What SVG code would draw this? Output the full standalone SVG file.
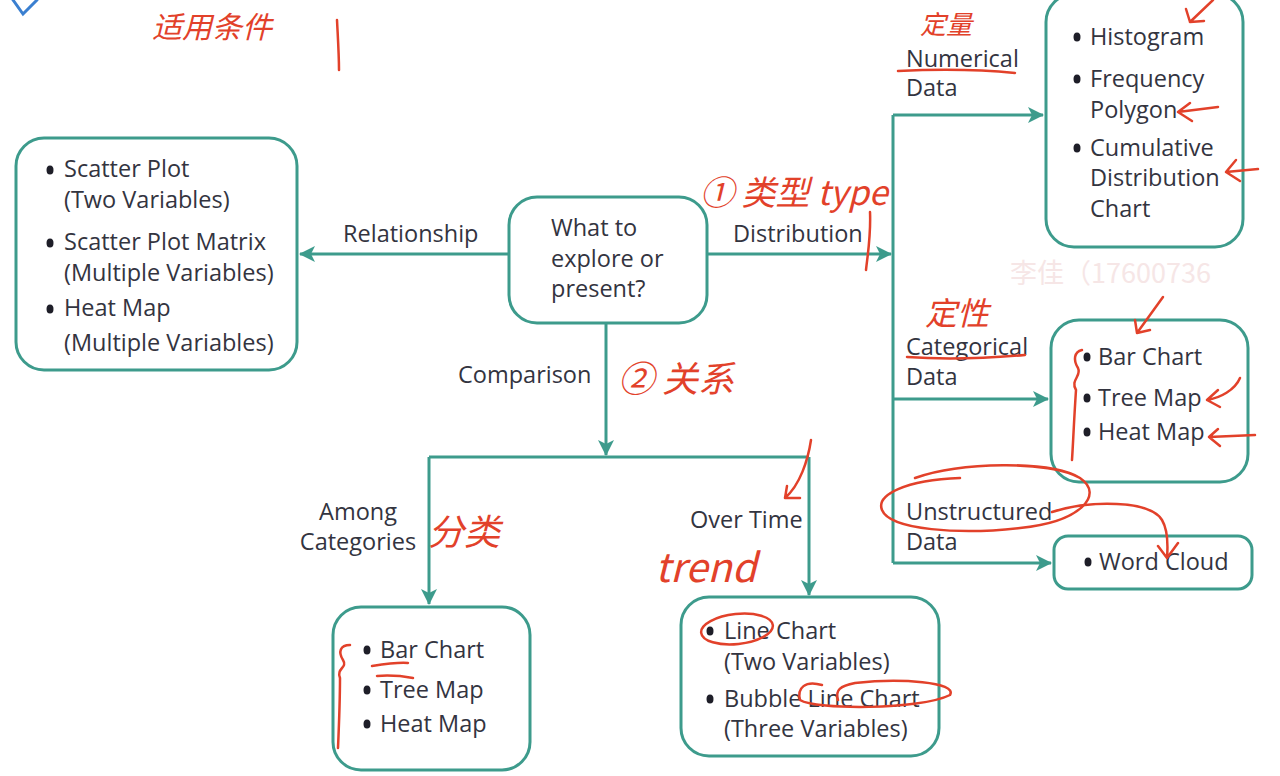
<svg xmlns="http://www.w3.org/2000/svg" width="1280" height="776" viewBox="0 0 1280 776">
<style>
.box{fill:#fff;stroke:#3d9b8c;stroke-width:3}
.t{font-family:"Open Sans","Liberation Sans",sans-serif;font-size:23.5px;fill:#33343f}
.lbl{font-family:"Open Sans","Liberation Sans",sans-serif;font-size:23.5px;fill:#33343f}
.con{fill:none;stroke:#3d9b8c;stroke-width:3}
.b{fill:#1e1e28}
.red{fill:none;stroke:#e2412a;stroke-width:2.5;stroke-linecap:round;stroke-linejoin:round}
.hw{font-family:"Noto Sans CJK SC","Liberation Sans",sans-serif;fill:#e2412a;font-style:italic}
</style>
<defs>
<marker id="arr" viewBox="0 0 16 16" refX="15" refY="8" markerWidth="16" markerHeight="16" orient="auto" markerUnits="userSpaceOnUse">
<path d="M0,0 L16,8 L0,16 L4,8 z" fill="#3d9b8c"/>
</marker>
</defs>
<rect width="1280" height="776" fill="#fff"/>
<text x="1010" y="283" font-family="Noto Sans CJK SC,sans-serif" font-size="27" fill="#f6e6e6">李佳（17600736</text>

<g id="connectors">
<path class="con" d="M509,254 H300" marker-end="url(#arr)"/>
<path class="con" d="M707,254 H891" marker-end="url(#arr)"/>
<path class="con" d="M893,115 V563"/>
<path class="con" d="M893,115 H1043" marker-end="url(#arr)"/>
<path class="con" d="M893,399 H1048" marker-end="url(#arr)"/>
<path class="con" d="M893,563 H1051" marker-end="url(#arr)"/>
<path class="con" d="M606,323 V455" marker-end="url(#arr)"/>
<path class="con" d="M429,457 H809"/>
<path class="con" d="M429,457 V604" marker-end="url(#arr)"/>
<path class="con" d="M809,457 V595" marker-end="url(#arr)"/>
<text class="lbl" x="343" y="242">Relationship</text>
<text class="lbl" x="733" y="242">Distribution</text>
<text class="lbl" x="458" y="383">Comparison</text>
<text class="lbl" x="358" y="520" text-anchor="middle">Among</text>
<text class="lbl" x="358" y="550" text-anchor="middle">Categories</text>
<text class="lbl" x="690" y="528">Over Time</text>
<text class="lbl" x="906" y="67">Numerical</text>
<text class="lbl" x="906" y="96">Data</text>
<text class="lbl" x="906" y="355">Categorical</text>
<text class="lbl" x="906" y="385">Data</text>
<text class="lbl" x="906" y="520">Unstructured</text>
<text class="lbl" x="906" y="550">Data</text>
</g>

<g id="start">
<rect class="box" x="509" y="197" width="198" height="126" rx="28"/>
<text class="t" x="551" y="236">What to</text>
<text class="t" x="551" y="267">explore or</text>
<text class="t" x="551" y="297">present?</text>
</g>

<g id="relationship">
<rect class="box" x="16" y="138" width="281" height="232" rx="28"/>
<ellipse class="b" cx="50" cy="170" rx="3.5" ry="4.5"/>
<text class="t" x="64" y="177">Scatter Plot</text>
<text class="t" x="64" y="208">(Two Variables)</text>
<ellipse class="b" cx="50" cy="243" rx="3.5" ry="4.5"/>
<text class="t" x="64" y="250">Scatter Plot Matrix</text>
<text class="t" x="64" y="281">(Multiple Variables)</text>
<ellipse class="b" cx="50" cy="309" rx="3.5" ry="4.5"/>
<text class="t" x="64" y="316">Heat Map</text>
<text class="t" x="64" y="351">(Multiple Variables)</text>
</g>

<g id="numerical">
<rect class="box" x="1046" y="-6" width="197" height="253" rx="28"/>
<ellipse class="b" cx="1077" cy="37" rx="3.5" ry="4.5"/>
<text class="t" x="1090" y="45">Histogram</text>
<ellipse class="b" cx="1077" cy="79" rx="3.5" ry="4.5"/>
<text class="t" x="1090" y="87">Frequency</text>
<text class="t" x="1090" y="118">Polygon</text>
<ellipse class="b" cx="1077" cy="148" rx="3.5" ry="4.5"/>
<text class="t" x="1090" y="156">Cumulative</text>
<text class="t" x="1090" y="186">Distribution</text>
<text class="t" x="1090" y="217">Chart</text>
</g>

<g id="categorical">
<rect class="box" x="1051" y="320" width="197" height="162" rx="28"/>
<ellipse class="b" cx="1087" cy="357" rx="3.5" ry="4.5"/>
<text class="t" x="1098" y="365">Bar Chart</text>
<ellipse class="b" cx="1087" cy="398" rx="3.5" ry="4.5"/>
<text class="t" x="1098" y="406">Tree Map</text>
<ellipse class="b" cx="1087" cy="432" rx="3.5" ry="4.5"/>
<text class="t" x="1098" y="440">Heat Map</text>
</g>

<g id="unstructured">
<rect class="box" x="1054" y="536" width="198" height="53" rx="14"/>
<ellipse class="b" cx="1088" cy="562" rx="3.5" ry="4.5"/>
<text class="t" x="1099" y="570">Word Cloud</text>
</g>

<g id="among">
<rect class="box" x="333" y="607" width="197" height="163" rx="28"/>
<ellipse class="b" cx="367" cy="650" rx="3.5" ry="4.5"/>
<text class="t" x="380" y="658">Bar Chart</text>
<ellipse class="b" cx="367" cy="690" rx="3.5" ry="4.5"/>
<text class="t" x="380" y="698">Tree Map</text>
<ellipse class="b" cx="367" cy="724" rx="3.5" ry="4.5"/>
<text class="t" x="380" y="732">Heat Map</text>
</g>

<g id="overtime">
<rect class="box" x="681" y="597" width="258" height="159" rx="28"/>
<ellipse class="b" cx="710" cy="631" rx="3.5" ry="4.5"/>
<text class="t" x="724" y="639">Line Chart</text>
<text class="t" x="724" y="670">(Two Variables)</text>
<ellipse class="b" cx="710" cy="699" rx="3.5" ry="4.5"/>
<text class="t" x="724" y="707">Bubble Line Chart</text>
<text class="t" x="724" y="737">(Three Variables)</text>
</g>

<g id="annotations">
<path d="M13,0 L23,14 L37,0" fill="none" stroke="#3a7fd0" stroke-width="3" stroke-linecap="round"/>
<text class="hw" x="152" y="38" font-size="30">适用条件</text>
<path class="red" d="M337,20 C338,40 339,55 339,70"/>
<text class="hw" x="920" y="34" font-size="26">定量</text>
<path class="red" d="M898,71 C940,69 985,70 1015,73"/>
<path class="red" d="M1213,0 L1190,22 M1190,22 L1186,9 M1190,22 L1204,21"/>
<path class="red" d="M1218,107 L1178,112 M1178,112 L1190,103 M1178,112 L1192,121"/>
<path class="red" d="M1258,169 L1226,172 M1226,172 L1236,160 M1226,172 L1240,181"/>
<text class="hw" x="700" y="205" font-size="34">① 类型 type</text>
<path class="red" d="M870,212 C871,235 868,252 866,270"/>
<text class="hw" x="618" y="392" font-size="36">② 关系</text>
<text class="hw" x="925" y="325" font-size="32">定性</text>
<path class="red" d="M907,357 C950,360 990,358 1025,355"/>
<path class="red" d="M1163,297 L1137,333 M1137,333 L1135,320 M1137,333 L1150,330"/>
<path class="red" d="M1082,350 C1074,352 1073,360 1078,368 C1082,376 1070,380 1076,390 C1074,420 1073,445 1072,460"/>
<path class="red" d="M1240,378 C1235,390 1220,398 1207,400 M1207,400 L1218,390 M1207,400 L1220,407"/>
<path class="red" d="M1255,435 L1209,437 M1209,437 L1218,429 M1209,437 L1220,446"/>
<path class="red" d="M915,478 C960,462 1050,460 1080,478 C1105,495 1080,522 1020,528 C960,535 890,530 882,510 C876,495 905,480 960,478"/>
<path class="red" d="M1052,512 C1090,500 1150,500 1162,520 C1168,530 1168,545 1167,558 M1167,558 L1158,546 M1167,558 L1178,543"/>
<path class="red" d="M811,440 C808,460 800,485 785,498 M785,498 L787,486 M785,498 L800,498"/>
<text class="hw" x="655" y="582" font-size="40">trend</text>
<text class="hw" x="428" y="545" font-size="36">分类</text>
<path class="red" d="M350,645 C340,645 338,652 343,660 C348,668 336,668 340,678 C340,700 339,725 338,748"/>
<path class="red" d="M372,666 C385,664 398,662 408,663 M377,676 C390,675 402,676 413,678"/>
<ellipse class="red" cx="737" cy="629" rx="36" ry="15" transform="rotate(-6 737 629)"/>
<path class="red" d="M822,685 C805,680 797,688 800,700 C815,710 920,710 950,695 C958,682 900,678 855,683 C840,686 835,690 838,700"/>
</g>
</svg>
